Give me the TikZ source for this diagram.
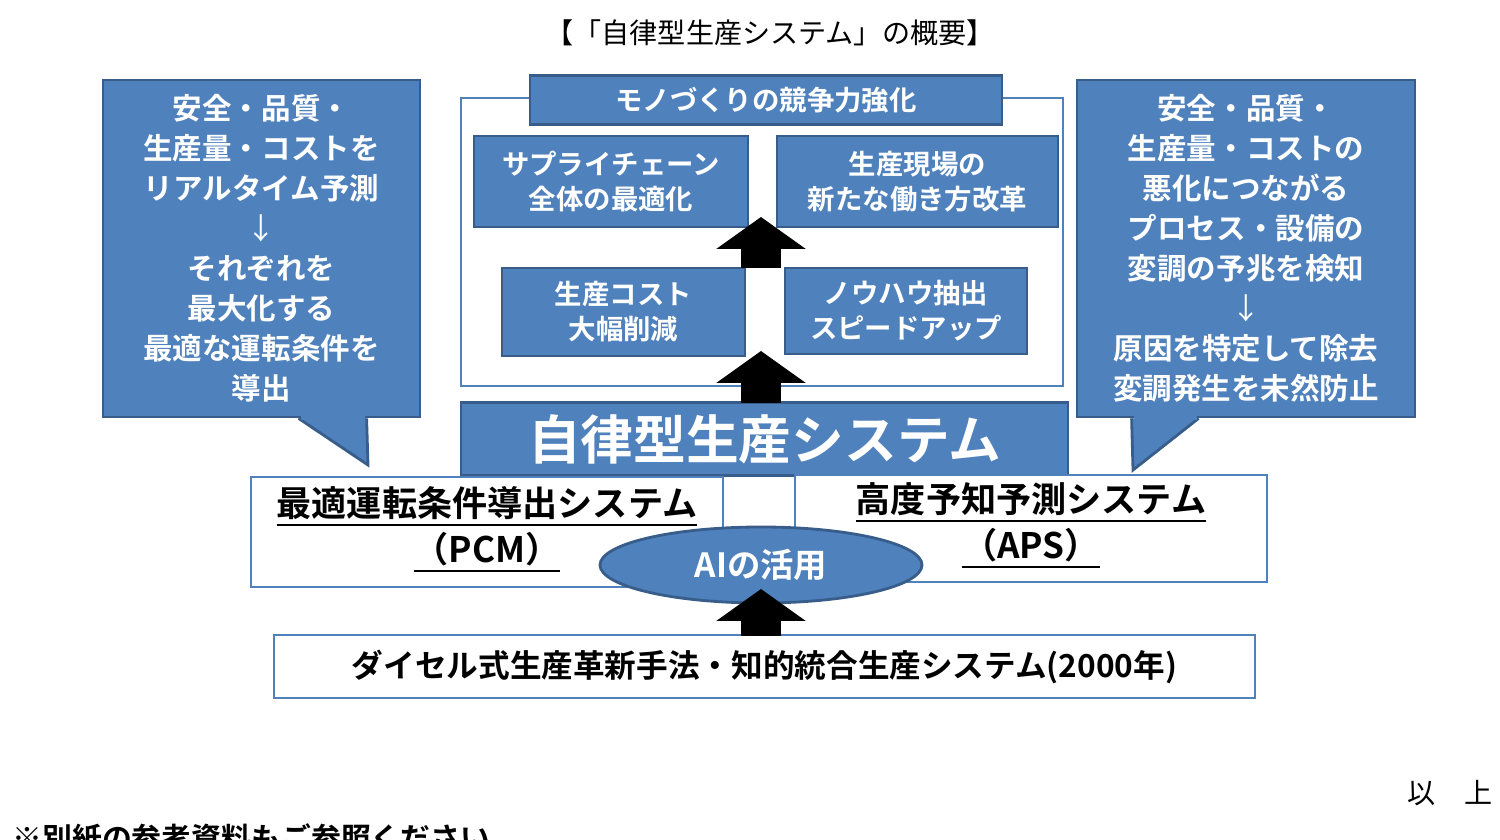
\documentclass[tikz,border=0pt]{standalone}
\usepackage{fontspec}
\setmainfont{Noto Sans CJK JP}[BoldFont={* Bold}]
\usetikzlibrary{arrows.meta,calc,shapes.geometric}
\definecolor{boxblue}{HTML}{4F81BD}
\definecolor{edgeblue}{HTML}{385D8A}
\tikzstyle{callout} =
  [ rectangle
  , fill=boxblue
  , draw=edgeblue
  , line width=0.8pt
  , text=white
  , align=center
  , font=\fontsize{8.4}{11.4}\selectfont\bfseries
  ]
\tikzstyle{bluebox} =
  [ rectangle
  , fill=boxblue
  , draw=edgeblue
  , line width=0.8pt
  , text=white
  , align=center
  , font=\fontsize{7.8}{10}\selectfont\bfseries
  ]
\tikzstyle{whitebox} =
  [ rectangle
  , fill=white
  , draw=boxblue
  , line width=0.8pt
  , align=center
  ]
\tikzstyle{uparrow} =
  [ line width=4mm
  , -{Triangle[length=3.2mm,width=8.8mm]}
  ]

\begin{document}
\begin{tikzpicture}[x=0.1mm,y=-0.1mm]
    \useasboundingbox (0,0) rectangle (1500,840);

    \node (title) at (770,33) {\fontsize{8}{10}\selectfont 【「自律型生産システム」の概要】};

    % callouts on both sides
    \node[callout,minimum width=31.7mm,minimum height=33.7mm] (left) at (261.5,248.5)
      {安全・品質・\\生産量・コストを\\リアルタイム予測\\{\mdseries ↓}\\それぞれを\\最大化する\\最適な運転条件を\\導出};
    \coordinate (left_tip) at (368,465);
    \draw[fill=boxblue,draw=edgeblue,line width=0.8pt] ($(left.south west)+(197,0)$) -- (left_tip) -- ($(left.south west)+(265,0)$);
    \fill[boxblue] ($(left.south west)+(199,-3)$) rectangle ($(left.south west)+(263,2)$);

    \node[callout,minimum width=33.8mm,minimum height=33.7mm] (right) at (1246,248.5)
      {安全・品質・\\生産量・コストの\\悪化につながる\\プロセス・設備の\\変調の予兆を検知\\{\mdseries ↓}\\原因を特定して除去\\変調発生を未然防止};
    \coordinate (right_tip) at (1133,470);
    \draw[fill=boxblue,draw=edgeblue,line width=0.8pt] ($(right.south west)+(56,0)$) -- (right_tip) -- ($(right.south west)+(123,0)$);
    \fill[boxblue] ($(right.south west)+(58,-3)$) rectangle ($(right.south west)+(121,2)$);

    % competitiveness frame
    \node[whitebox,minimum width=60.2mm,minimum height=28.8mm] (frame) at (762,242) {};
    \node[bluebox,minimum width=47.2mm,minimum height=4mm] (header) at (766,100) {モノづくりの競争力強化};
    \node[bluebox,minimum width=27.4mm,minimum height=9.1mm] (supply) at (611,181.5) {サプライチェーン\\全体の最適化};
    \node[bluebox,minimum width=28.1mm,minimum height=9.1mm] (workstyle) at (917.5,181.5) {生産現場の\\新たな働き方改革};
    \node[bluebox,minimum width=24.3mm,minimum height=8.8mm] (cost) at (623.5,312) {生産コスト\\大幅削減};
    \node[bluebox,minimum width=24.2mm,minimum height=8.6mm] (knowhow) at (906,311) {ノウハウ抽出\\スピードアップ};

    \coordinate (a1_from) at (761,268);
    \coordinate (a1_to)   at (761,217);
    \draw[uparrow] (a1_from) -- (a1_to);

    % autonomous production system
    \node[bluebox,minimum width=60.7mm,minimum height=7.2mm,font=\fontsize{15}{18}\selectfont\bfseries] (system) at (764.5,439) {自律型生産システム};
    \coordinate (a2_from) at (761,403);
    \coordinate (a2_to)   at (761,351);
    \draw[uparrow] (a2_from) -- (a2_to);

    \node[whitebox,minimum width=47.2mm,minimum height=11mm] (pcm) at (487,532) {};
    \node[whitebox,minimum width=47.2mm,minimum height=10.7mm] (aps) at (1031,528.5) {};
    \node[font=\fontsize{10}{13}\selectfont\bfseries,align=center] (pcm_text) at (487,530)
      {\underline{最適運転条件導出システム}\\\underline{（PCM）}};
    \node[font=\fontsize{10}{13}\selectfont\bfseries,align=center] (aps_text) at (1031,526)
      {\underline{高度予知予測システム}\\\underline{（APS）}};

    \node[ellipse,fill=boxblue,draw=edgeblue,line width=0.8pt,minimum width=32.2mm,minimum height=7.6mm,inner sep=0pt,
          text=white,font=\fontsize{9.5}{12}\selectfont\bfseries] (ai) at (761,565) {AIの活用};

    % base
    \node[whitebox,minimum width=98.1mm,minimum height=6.3mm,font=\fontsize{9}{11}\selectfont\bfseries] (base) at (764.5,666.5)
      {ダイセル式生産革新手法・知的統合生産システム(2000年)};
    \coordinate (a3_from) at (761,636);
    \coordinate (a3_to)   at (761,589);
    \draw[uparrow] (a3_from) -- (a3_to);

    \node (end) at (1450,793) {\fontsize{8}{10}\selectfont 以　上};
    \node[anchor=west] (note) at (0,838) {\fontsize{8.5}{10}\selectfont\bfseries ※別紙の参考資料もご参照ください。};
  \end{tikzpicture}
\end{document}
